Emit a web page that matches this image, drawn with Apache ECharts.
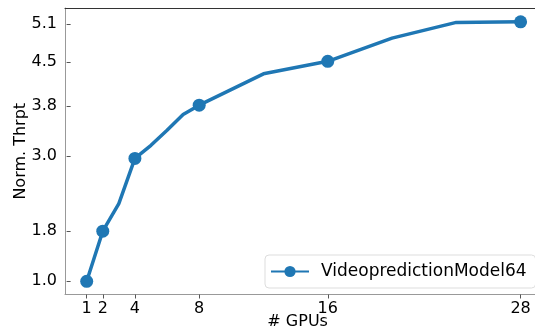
<!DOCTYPE html>
<html>
<head>
<meta charset="utf-8">
<script src="https://cdn.jsdelivr.net/npm/echarts@6/dist/echarts.min.js"></script>
<style>
html,body{margin:0;padding:0;background:#fff;}
#chart{width:535px;height:334px;}
</style>
</head>
<body>
<div id="chart"></div>
<script>
var gpus = [1, 2, 3, 4, 5, 6, 7, 8, 12, 16, 20, 24, 28];
var thrpt = [1.0, 1.8, 2.24, 2.96, 3.17, 3.41, 3.66, 3.81, 4.31, 4.51, 4.88, 5.13, 5.14];
var markedGpus = [1, 2, 4, 8, 16, 28];
var xTicks = [1, 2, 4, 8, 16, 28];
var yTicks = [1.0, 1.8, 3.0, 3.8, 4.5, 5.1];
var seriesName = 'VideopredictionModel64';

var FONT = 'DejaVu Sans';
var data = gpus.map(function (g, i) {
  var item = { value: [g, thrpt[i]] };
  if (markedGpus.indexOf(g) < 0) item.symbol = 'none';
  return item;
});

var chart = echarts.init(document.getElementById('chart'), null, { renderer: 'canvas' });
chart.setOption({
  animation: false,
  backgroundColor: '#ffffff',
  grid: { left: 65, top: 8, right: -7.3, bottom: 39.5, containLabel: false, outerBoundsMode: 'none' },
  legend: {
    data: [seriesName],
    left: 265, top: 255,
    padding: [8, 9, 8, 5],
    itemWidth: 38, itemHeight: 14,
    backgroundColor: 'rgba(255,255,255,0.8)',
    borderColor: '#dddddd', borderWidth: 1, borderRadius: 4,
    textStyle: { fontFamily: FONT, fontSize: 17, color: '#000', padding: [0, 0, 0, 7] }
  },
  xAxis: [{
    type: 'value', min: -0.35, max: 29.35,
    name: '# GPUs', nameLocation: 'middle', nameGap: 19, nameMoveOverlap: false,
    nameTextStyle: { fontFamily: FONT, fontSize: 16, color: '#000', padding: [0, 12, 0, 0] },
    splitLine: { show: false },
    axisLine: { show: true, onZero: false, lineStyle: { color: '#999', width: 1 } },
    axisTick: { show: true, length: 4, lineStyle: { color: '#555' }, customValues: xTicks },
    axisLabel: { fontFamily: FONT, fontSize: 16, color: '#000', margin: 6, customValues: xTicks,
      formatter: function (v) { return String(v); } }
  }, {
    type: 'value', min: -0.35, max: 29.35, position: 'top',
    splitLine: { show: false },
    axisLine: { show: true, onZero: false, lineStyle: { color: '#333', width: 1 } },
    axisTick: { show: false }, axisLabel: { show: false }
  }],
  yAxis: [{
    type: 'value', min: 0.79, max: 5.36,
    name: 'Norm. Thrpt', nameLocation: 'middle', nameGap: 36, nameMoveOverlap: false,
    nameTextStyle: { fontFamily: FONT, fontSize: 16, color: '#000' },
    splitLine: { show: false },
    axisLine: { show: false },
    axisTick: { show: true, length: 4, lineStyle: { color: '#555' }, customValues: yTicks },
    axisLabel: { fontFamily: FONT, fontSize: 16, color: '#000', margin: 8, customValues: yTicks,
      formatter: function (v) { return v.toFixed(1); } }
  }, {
    type: 'value', min: 0.79, max: 5.36, position: 'left',
    splitLine: { show: false },
    axisLine: { show: true, onZero: false, lineStyle: { color: '#999', width: 1 } },
    axisTick: { show: false }, axisLabel: { show: false }
  }],
  series: [{
    name: seriesName,
    type: 'line',
    xAxisIndex: 0,
    yAxisIndex: 0,
    data: data,
    symbol: 'circle',
    symbolSize: 13,
    showAllSymbol: true,
    itemStyle: { color: '#1f77b4' },
    lineStyle: { color: '#1f77b4', width: 3.5 }
  }]
});
</script>
</body>
</html>
